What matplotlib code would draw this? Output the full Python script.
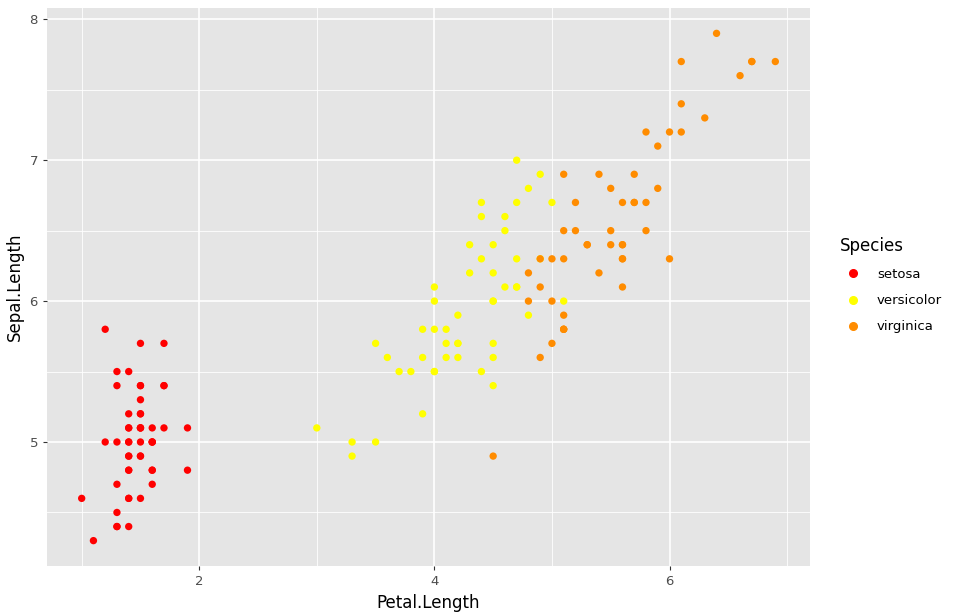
import matplotlib
matplotlib.use("Agg")
import matplotlib.pyplot as plt
from matplotlib.lines import Line2D

setosa_pl = [1.4,1.4,1.3,1.5,1.4,1.7,1.4,1.5,1.4,1.5,1.5,1.6,1.4,1.1,1.2,1.5,1.3,1.4,1.7,1.5,1.7,1.5,1.0,1.7,1.9,1.6,1.6,1.5,1.4,1.6,1.6,1.5,1.5,1.4,1.5,1.2,1.3,1.4,1.3,1.5,1.3,1.3,1.3,1.6,1.9,1.4,1.6,1.4,1.5,1.4]
setosa_sl = [5.1,4.9,4.7,4.6,5.0,5.4,4.6,5.0,4.4,4.9,5.4,4.8,4.8,4.3,5.8,5.7,5.4,5.1,5.7,5.1,5.4,5.1,4.6,5.1,4.8,5.0,5.0,5.2,5.2,4.7,4.8,5.4,5.2,5.5,4.9,5.0,5.5,4.9,4.4,5.1,5.0,4.5,4.4,5.0,5.1,4.8,5.1,4.6,5.3,5.0]
versi_pl = [4.7,4.5,4.9,4.0,4.6,4.5,4.7,3.3,4.6,3.9,3.5,4.2,4.0,4.7,3.6,4.4,4.5,4.1,4.5,3.9,4.8,4.0,4.9,4.7,4.3,4.4,4.8,5.0,4.5,3.5,3.8,3.7,3.9,5.1,4.5,4.5,4.7,4.4,4.1,4.0,4.4,4.6,4.0,3.3,4.2,4.2,4.2,4.3,3.0,4.1]
versi_sl = [7.0,6.4,6.9,5.5,6.5,5.7,6.3,4.9,6.6,5.2,5.0,5.9,6.0,6.1,5.6,6.7,5.6,5.8,6.2,5.6,5.9,6.1,6.3,6.1,6.4,6.6,6.8,6.7,6.0,5.7,5.5,5.5,5.8,6.0,5.4,6.0,6.7,6.3,5.6,5.5,5.5,6.1,5.8,5.0,5.6,5.7,5.7,6.2,5.1,5.7]
virg_pl = [6.0,5.1,5.9,5.6,5.8,6.6,4.5,6.3,5.8,6.1,5.1,5.3,5.5,5.0,5.1,5.3,5.5,6.7,6.9,5.0,5.7,4.9,6.7,4.9,5.7,6.0,4.8,4.9,5.6,5.8,6.1,6.4,5.6,5.1,5.6,6.1,5.6,5.5,4.8,5.4,5.6,5.1,5.1,5.9,5.7,5.2,5.0,5.2,5.4,5.1]
virg_sl = [6.3,5.8,7.1,6.3,6.5,7.6,4.9,7.3,6.7,7.2,6.5,6.4,6.8,5.7,5.8,6.4,6.5,7.7,7.7,6.0,6.9,5.6,7.7,6.3,6.7,7.2,6.2,6.1,6.4,7.2,7.4,7.9,6.4,6.3,6.1,7.7,6.3,6.4,6.0,6.9,6.7,6.9,5.8,6.8,6.7,6.7,6.3,6.5,6.2,5.9]
species = ["setosa", "versicolor", "virginica"]
colors = ["#FF0000", "#FFFF00", "#FF8C00"]

fig = plt.figure(figsize=(9.57, 6.16), dpi=100)
ax = fig.add_axes([47/957, 1-566/616, (810-47)/957, (566-8)/616])
ax.set_facecolor("#E5E5E5")
for s in ax.spines.values():
    s.set_visible(False)
ax.set_xlim(0.705, 7.195)
ax.set_ylim(4.12, 8.08)
ax.set_xticks([2, 4, 6])
ax.set_yticks([5, 6, 7, 8])
ax.set_xticks([1, 3, 5, 7], minor=True)
ax.set_yticks([4.5, 5.5, 6.5, 7.5], minor=True)
ax.grid(True, which="major", color="white", lw=1.2)
ax.grid(True, which="minor", color="white", lw=0.6)
ax.set_axisbelow(True)
ax.tick_params(which="major", length=3, color="#333333", labelsize=9.5, labelcolor="#4D4D4D")
ax.tick_params(which="minor", length=0)
data = [(setosa_pl, setosa_sl), (versi_pl, versi_sl), (virg_pl, virg_sl)]
for (x, y), c in zip(data, colors):
    ax.scatter(x, y, s=28, color=c, edgecolors="none", zorder=3)
ax.set_xlabel("Petal.Length", fontsize=12)
ax.set_ylabel("Sepal.Length", fontsize=12)

handles = [Line2D([], [], marker="o", ls="none", color=c, markersize=5.5) for c in colors]
leg = fig.legend(handles, species, title="Species", loc="upper left",
                 bbox_to_anchor=(828/957, 1-225/616), frameon=False,
                 fontsize=9.5, title_fontsize=12, handletextpad=0.8, labelspacing=1.0,
                 alignment="left")
for h in leg.legend_handles:
    pass
fig.savefig("out.png", dpi=100)
